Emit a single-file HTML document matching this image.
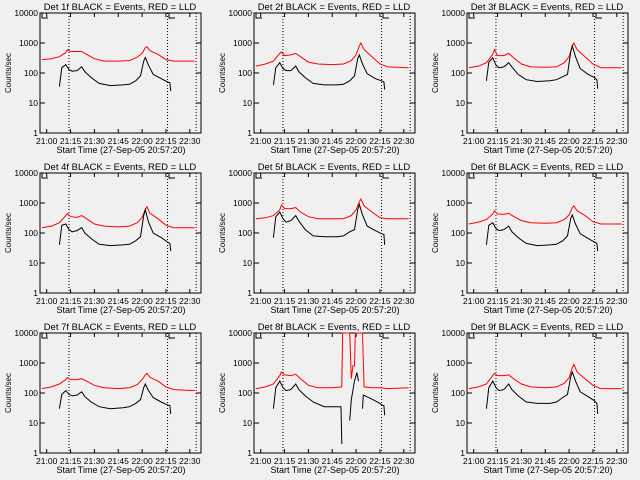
<!DOCTYPE html>
<html><head><meta charset="utf-8"><style>
html,body{margin:0;padding:0;background:#f0f0f0;}
svg{display:block;font-family:"Liberation Sans",sans-serif;}
</style></head><body>
<svg id="fig" width="640" height="480" viewBox="0 0 640 480"></svg>
<script>
const detNames=["1f","2f","3f","4f","5f","6f","7f","8f","9f"];
const xTickLabels=["21:00","21:15","21:30","21:45","22:00","22:15","22:30"];
const xTickMinutes=[0,15,30,45,60,75,90];
const yTickLabels=["1","10","100","1000","10000"];
const yTickValues=[1,10,100,1000,10000];
const markerMinutes=[14,76,94];
const blackT=[8,9.5,12,14,16,19,22,24,28,33,40,48,52,56,59,61,62,64,67,72,76,77.5,78];
const redT=[-3,3,8,12,13,15,19,22,25,30,36,45,52,57,60,62,63,65,70,75,80,93];
const black1=[35,150,190,130,115,120,160,110,70,45,38,40,42,55,80,250,330,180,90,65,50,48,25];
const red1=[280,300,350,480,600,520,520,520,420,300,250,250,260,340,450,700,750,550,420,280,250,250];
const black2=[40,150,220,140,120,120,170,110,70,45,40,40,42,55,80,300,400,200,95,65,55,50,28];
const red2=[170,200,250,450,500,380,400,450,350,230,200,190,200,260,400,800,1000,600,350,200,160,150];
const black3=[55,230,320,180,150,160,220,160,90,60,52,55,60,75,90,500,800,350,140,90,70,60,30];
const red3=[150,170,220,420,600,380,380,450,320,200,160,155,160,220,350,800,1000,600,350,200,150,150];
const black4=[40,180,200,130,110,120,150,100,65,42,38,40,42,55,75,380,600,230,100,70,50,45,25];
const red4=[150,170,220,380,450,350,330,380,300,200,170,160,170,220,330,600,750,450,300,180,150,150];
const black5=[70,350,500,300,230,260,380,250,130,80,75,75,80,110,130,600,900,400,170,120,95,90,40];
const red5=[300,320,380,600,850,650,650,700,500,350,300,300,300,380,600,1100,1350,800,500,320,300,300];
const black6=[40,180,220,140,120,130,170,110,70,45,38,40,42,55,80,300,400,200,95,65,50,45,25];
const red6=[200,230,280,430,550,430,420,450,360,260,220,210,220,280,400,700,800,550,380,240,200,200];
const black7=[30,90,120,90,80,85,110,75,50,35,30,32,35,45,60,150,200,120,70,50,40,38,20];
const red7=[140,160,200,280,330,280,280,300,250,180,150,140,150,190,280,400,450,330,250,160,130,120];
const black9=[30,150,250,150,120,130,200,130,80,50,45,45,50,70,90,350,500,250,110,75,55,45,20];
const red9=[140,160,200,380,450,380,380,400,300,200,160,150,160,210,320,700,900,500,300,180,140,140];
const black8T=[8,9.5,12,14,16,19,22,24,28,33,40,48,50.5,51,null,56,57,59,60.5,61.5,null,64,64.5,68,72,75,76,77.5,78];
const black8=[30,150,250,150,120,130,200,130,80,50,35,35,35,2,null,12,60,250,480,250,null,30,85,70,55,45,40,38,18];
const red8T=[-3,3,8,12,13,15,19,22,25,30,36,45,51,51.5,53,55,56,57,58,59,59.5,60,63,64,65,70,75,80,93];
const red8=[140,160,200,380,500,400,380,420,300,180,150,150,160,10000,10000,10000,10000,300,800,800,10000,10000,10000,10000,160,150,150,140,150];
const blacks=[black1,black2,black3,black4,black5,black6,black7,black8,black9];
const reds=[red1,red2,red3,red4,red5,red6,red7,red8,red9];

const NS="http://www.w3.org/2000/svg";
const fig=document.getElementById('fig');
function el(tag,attrs,parent){const e=document.createElementNS(NS,tag);for(const k in attrs)e.setAttribute(k,attrs[k]);(parent||fig).appendChild(e);return e;}
const offX=[0,214,427],offY=[0,160,320];
for(let p=0;p<9;p++){
  const ox=offX[p%3],oy=offY[Math.floor(p/3)];
  const g=el('g',{transform:`translate(${ox},${oy})`});
  
  
  const xs=t=>46.7+1.59*t;
  const ys=v=>133-30*Math.log10(v);
  const frame=el('rect',{x:40,y:13,width:161,height:120,fill:'none',stroke:'#000','stroke-width':1},g);
  
  
  const title=el('text',{x:120,y:10,'font-size':9.5,'text-anchor':'middle'},g);
  title.textContent='Det '+detNames[p]+' BLACK = Events, RED = LLD';
  
  
  const yl=el('text',{x:0,y:0,'font-size':8,'text-anchor':'middle',transform:'translate(11,73) rotate(-90)'},g);
  yl.textContent='Counts/sec';
  
  
  const xl=el('text',{x:121,y:153,'font-size':9,'text-anchor':'middle'},g);
  xl.textContent='Start Time (27-Sep-05 20:57:20)';
  
  
  xTickMinutes.forEach((m,i)=>{
    const x=xs(m);
    el('line',{x1:x,x2:x,y1:133,y2:129,stroke:'#000'},g);
    el('line',{x1:x,x2:x,y1:13,y2:17,stroke:'#000'},g);
    const t=el('text',{x:x,y:144,'font-size':8.5,'text-anchor':'middle'},g);
    t.textContent=xTickLabels[i];
    
    
  });
  yTickValues.forEach((v,i)=>{
    const y=ys(v);
    el('line',{x1:40,x2:45,y1:y,y2:y,stroke:'#000'},g);
    el('line',{x1:196,x2:201,y1:y,y2:y,stroke:'#000'},g);
    const t=el('text',{x:38,y:y+3,'font-size':8.5,'text-anchor':'end'},g);
    t.textContent=yTickLabels[i];
    
    
  });
  markerMinutes.forEach(m=>{
    const l=el('line',{x1:xs(m),x2:xs(m),y1:13,y2:133,stroke:'#000','stroke-dasharray':'1,2'},g);
    
    
  });
  el('path',{d:'M48,13 H42 V18 H48',fill:'none',stroke:'#000'},g);
  el('path',{d:'M175,13 H169 V18 H175',fill:'none',stroke:'#000'},g);
  function path(T,V){let d='',pen=false;for(let i=0;i<T.length;i++){if(T[i]===null||V[i]===null){pen=false;continue;}d+=(pen?'L':'M')+xs(T[i]).toFixed(1)+','+ys(V[i]).toFixed(1);pen=true;}return d;}
  const rT=p===7?red8T:redT, bT=p===7?black8T:blackT;
  const r=el('path',{d:path(rT,reds[p]),fill:'none',stroke:'#ff0000','stroke-width':1},g);
  
  
  const b=el('path',{d:path(bT,blacks[p]),fill:'none',stroke:'#000','stroke-width':1},g);
  
  
}
</script>
</body></html>
